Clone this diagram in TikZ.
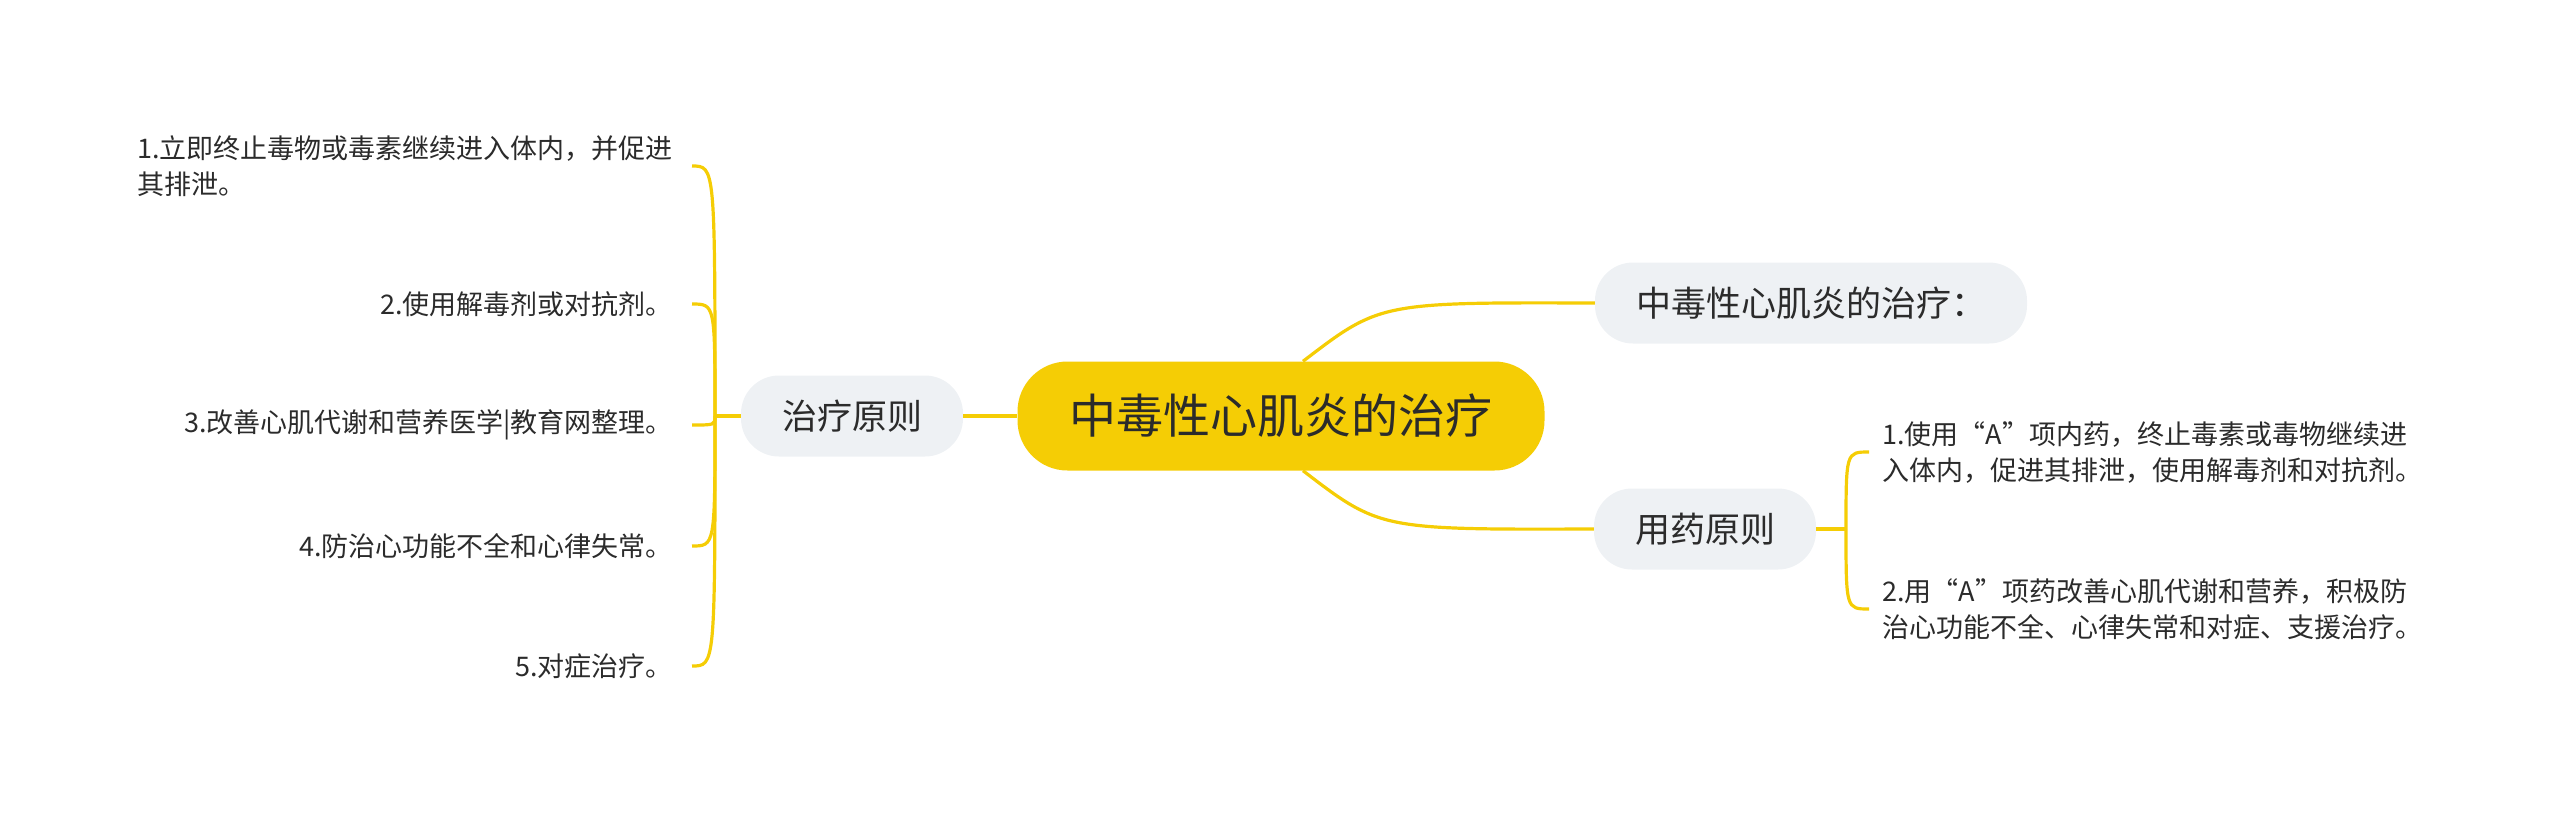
\documentclass[tikz,border=0pt]{standalone}
\usepackage{fontspec}
\newfontfamily\cjk{Noto Sans CJK SC}
\usepackage{tikz}
\usetikzlibrary{calc}
\definecolor{mmyellow}{HTML}{F5CD05}
\definecolor{mmgray}{HTML}{EEF1F4}
\definecolor{mmtext}{HTML}{2B2B2B}

\begin{document}
\begin{tikzpicture}[x=1pt, y=-1pt,
    link/.style={draw=mmyellow, line width=3.2pt},
    rootnode/.style={fill=mmyellow, rounded corners=50pt, minimum height=109pt,
      inner xsep=52pt, text=mmtext, font=\cjk\fontsize{47}{56}\selectfont},
    topic/.style={fill=mmgray, rounded corners=38pt, minimum height=81pt,
      inner xsep=41pt, text=mmtext, font=\cjk\fontsize{35}{42}\selectfont},
    leaf/.style={inner ysep=0pt, align=left, text=mmtext,
      font=\cjk\fontsize{27}{36}\selectfont},
  ]
  \useasboundingbox (0,0) rectangle (2560,815);

  \node[rootnode] (root) at (1281,416) {中毒性心肌炎的治疗};
  \node[topic] (zl) at (852,416) {治疗原则};
  \node[topic] (zt) at (1811,303) {中毒性心肌炎的治疗：};
  \node[topic] (yy) at (1705,529) {用药原则};

  \coordinate (lj) at (715,416);
  \coordinate (rj) at (1846,529);

  % left leaves
  \node[leaf, anchor=east, inner xsep=19pt] (l1) at (692,166)
    {1.立即终止毒物或毒素继续进入体内，并促进\\其排泄。};
  \node[leaf, anchor=east, inner xsep=19pt] (l2) at (692,304) {2.使用解毒剂或对抗剂。};
  \node[leaf, anchor=east, inner xsep=19pt] (l3) at (692,425) {3.改善心肌代谢和营养医学|教育网整理。};
  \node[leaf, anchor=east, inner xsep=19pt] (l4) at (692,546) {4.防治心功能不全和心律失常。};
  \node[leaf, anchor=east, inner xsep=19pt] (l5) at (692,666) {5.对症治疗。};

  % right leaves
  \node[leaf, anchor=west, inner xsep=13pt] (r1) at (1869,452)
    {1.使用“A”项内药，终止毒素或毒物继续进\\入体内，促进其排泄，使用解毒剂和对抗剂。};
  \node[leaf, anchor=west, inner xsep=13pt] (r2) at (1869,609)
    {2.用“A”项药改善心肌代谢和营养，积极防\\治心功能不全、心律失常和对症、支援治疗。};

  \draw[link] (zl) -- (root);
  \draw[link] ([xshift=22pt]root.north) .. controls +(77,-59) .. (zt.west);
  \draw[link] ([xshift=22pt]root.south) .. controls +(77,59) .. (yy.west);

  \draw[link] (zl.west) -- (lj);
  \foreach \n in {l1,l2,l3,l4,l5}
    \draw[link] (lj) .. controls (lj |- \n.east) .. (\n.east);

  \draw[link] (yy.east) -- (rj);
  \foreach \n in {r1,r2}
    \draw[link] (rj) .. controls (rj |- \n.west) .. (\n.west);
\end{tikzpicture}
\end{document}
